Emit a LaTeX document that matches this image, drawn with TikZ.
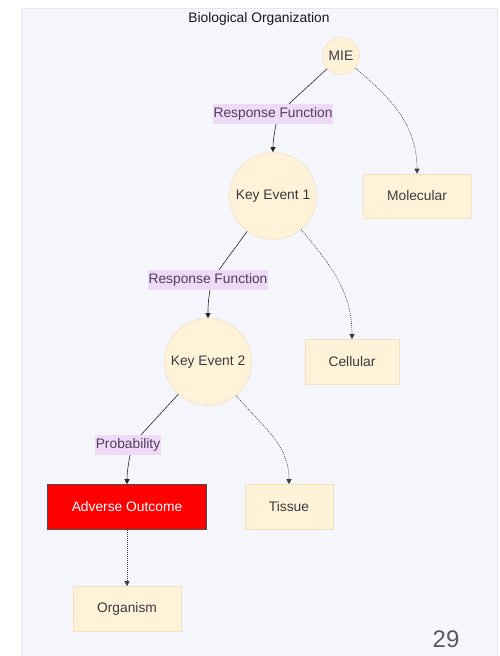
\documentclass[tikz,border=0pt]{standalone}
\usepackage{fontspec}
\setmainfont{Liberation Sans}
\usetikzlibrary{arrows.meta}
\definecolor{panel}{HTML}{F4F6FB}
\definecolor{panelborder}{HTML}{E3E7EF}
\definecolor{cream}{HTML}{FFF2D9}
\definecolor{creamborder}{HTML}{F3E2C2}
\definecolor{lab}{HTML}{EEDAF7}
\definecolor{labtext}{HTML}{4E3E5C}
\definecolor{txt}{HTML}{3A3A3A}
\tikzset{
  base/.style={font=\fontsize{13.8}{16}\selectfont, text=txt},
  circ/.style={base, circle, fill=cream, draw=creamborder, line width=0.6pt, inner sep=0pt},
  box/.style={base, rectangle, fill=cream, draw=creamborder, line width=0.6pt, inner sep=0pt},
  elabel/.style={font=\fontsize{13.8}{16}\selectfont, text=labtext, fill=lab, inner sep=1pt, minimum height=20, rectangle},
  solidedge/.style={draw=black!85, line width=0.6pt},
  dotedge/.style={draw=black!75, line width=0.6pt, dash pattern=on 1pt off 1pt},
  tip/.style={-{Triangle[length=5pt,width=5pt]}}
}
\begin{document}
\begin{tikzpicture}[x=1pt,y=-1pt]
\useasboundingbox (0,0) rectangle (500,656);
\fill[panel] (21,8) rectangle (497,660);
\draw[panelborder, line width=0.6pt] (21,660) -- (21,8) -- (497,8) -- (497,660);
\node[base, text=black!90] (title) at (259,19) {Biological Organization};

\node[circ, minimum size=37] (mie) at (341,56) {MIE};
\node[elabel, minimum width=120] (l1) at (273,114) {Response Function};
\node[circ, minimum size=87] (ke1) at (273,196) {Key Event 1};
\node[box, minimum width=108, minimum height=44] (mol) at (417,196) {Molecular};

\node[elabel, minimum width=120] (l2) at (208,280) {Response Function};
\node[circ, minimum size=87] (ke2) at (208,362) {Key Event 2};
\node[box, minimum width=94, minimum height=45] (cel) at (352,362) {Cellular};

\node[elabel, minimum width=65] (l3) at (128,445) {Probability};
\node[box, fill=red, draw=black!70, text=white, minimum width=159, minimum height=45] (ao) at (127,507) {Adverse Outcome};
\node[box, minimum width=88, minimum height=45] (tis) at (289,507) {Tissue};
\node[box, minimum width=108, minimum height=45] (org) at (127,609) {Organism};

\node[font=\fontsize{24}{26}\selectfont, text=black!65] (num) at (446,639) {29};

% solid edges
\draw[solidedge] (mie) -- ([xshift=16pt]l1.north);
\draw[solidedge, tip] ([xshift=3pt]l1.south) to[out=-100,in=90] (ke1.north);
\draw[solidedge] (ke1) -- ([xshift=11pt]l2.north);
\draw[solidedge, tip] ([xshift=2pt]l2.south) to[out=-100,in=90] (ke2.north);
\draw[solidedge] (ke2) -- ([xshift=13pt]l3.north);
\draw[solidedge, tip] ([xshift=2pt]l3.south) to[out=-100,in=90] (ao.north);

% dotted edges
\draw[dotedge, tip] (mie) to[out=-40,in=90] (mol.north);
\draw[dotedge, tip] (ke1) to[out=-50,in=90] (cel.north);
\draw[dotedge, tip] (ke2) to[out=-50,in=90] (tis.north);
\draw[dotedge, tip] (ao) -- (org);
\end{tikzpicture}
\end{document}
